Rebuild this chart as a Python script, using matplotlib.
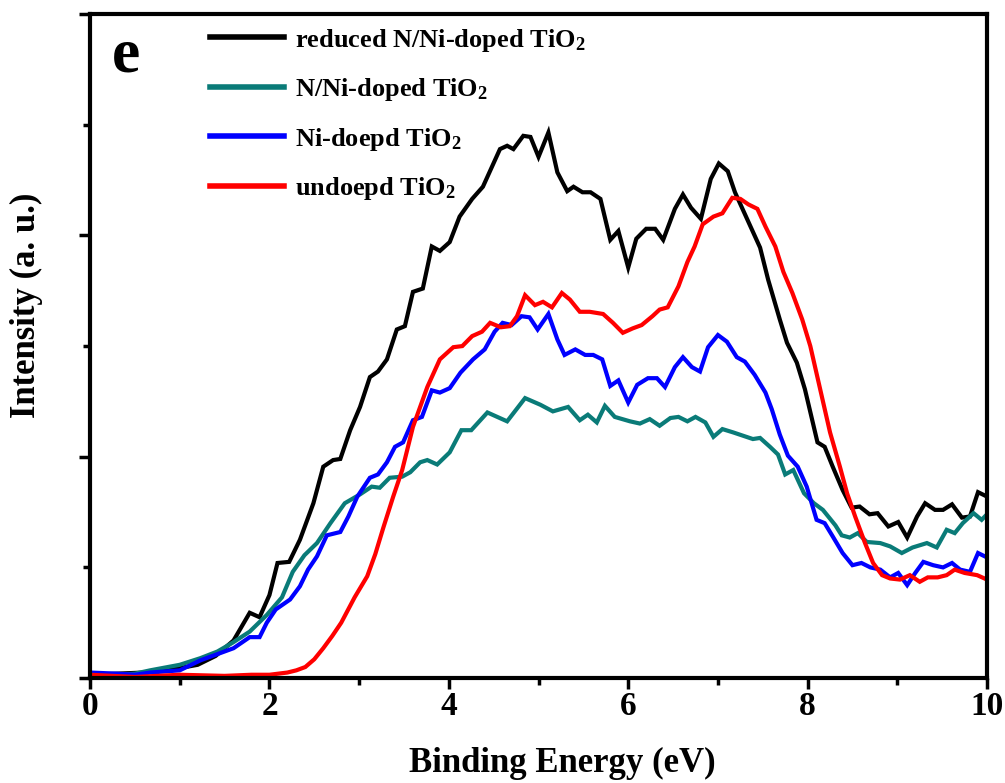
import matplotlib
matplotlib.use('agg')
import matplotlib.pyplot as plt
from matplotlib.ticker import MultipleLocator

# valence band spectra, four samples
x_red_ni = [0.0, 0.3, 0.6, 1.0, 1.2, 1.4, 1.6, 1.78, 1.89, 2.0, 2.09, 2.22, 2.34, 2.49, 2.6, 2.71, 2.79,
            2.9, 3.01, 3.12, 3.21, 3.31, 3.42, 3.51, 3.6, 3.71, 3.81, 3.9, 4.01, 4.12, 4.26, 4.38, 4.57,
            4.65, 4.72, 4.83, 4.91, 5.0, 5.11, 5.21, 5.32, 5.39, 5.49, 5.58, 5.69, 5.8, 5.89, 6.0, 6.09,
            6.2, 6.3, 6.39, 6.52, 6.61, 6.7, 6.81, 6.92, 7.01, 7.11, 7.19, 7.33, 7.47, 7.56, 7.69, 7.77,
            7.88, 7.97, 8.11, 8.19, 8.28, 8.39, 8.49, 8.58, 8.69, 8.78, 8.9, 9.01, 9.11, 9.22, 9.31, 9.42,
            9.51, 9.61, 9.72, 9.81, 9.9, 10.0]
y_red_ni = [0.03, 0.04, 0.05, 0.09, 0.12, 0.2, 0.34, 0.59, 0.55, 0.75, 1.04, 1.05, 1.25, 1.58, 1.91, 1.97,
            1.98, 2.24, 2.45, 2.72, 2.77, 2.88, 3.15, 3.18, 3.49, 3.52, 3.9, 3.86, 3.94, 4.17, 4.33, 4.44,
            4.78, 4.81, 4.78, 4.9, 4.89, 4.71, 4.93, 4.57, 4.4, 4.44, 4.39, 4.39, 4.33, 3.96, 4.04, 3.71,
            3.97, 4.06, 4.06, 3.96, 4.24, 4.37, 4.25, 4.15, 4.51, 4.65, 4.58, 4.39, 4.14, 3.89, 3.6, 3.24,
            3.03, 2.85, 2.61, 2.13, 2.09, 1.91, 1.7, 1.54, 1.55, 1.48, 1.49, 1.37, 1.41, 1.27, 1.46, 1.58,
            1.52, 1.52, 1.57, 1.45, 1.46, 1.68, 1.64]

x_nni = [0.0, 0.3, 0.5, 0.67, 1.0, 1.23, 1.42, 1.59, 1.78, 1.97, 2.14, 2.26, 2.39, 2.53, 2.68, 2.84, 3.01,
         3.14, 3.23, 3.34, 3.48, 3.57, 3.68, 3.76, 3.87, 4.01, 4.14, 4.25, 4.43, 4.65, 4.85, 5.02, 5.16,
         5.33, 5.46, 5.55, 5.65, 5.74, 5.85, 6.02, 6.13, 6.24, 6.35, 6.47, 6.56, 6.66, 6.75, 6.86, 6.95,
         7.05, 7.17, 7.28, 7.39, 7.47, 7.58, 7.67, 7.75, 7.84, 7.96, 8.07, 8.17, 8.31, 8.38, 8.47, 8.56,
         8.66, 8.81, 8.92, 9.05, 9.17, 9.33, 9.44, 9.55, 9.64, 9.73, 9.85, 9.94, 10.0]
y_nni = [0.04, 0.03, 0.04, 0.07, 0.12, 0.18, 0.24, 0.32, 0.42, 0.57, 0.73, 0.96, 1.11, 1.22, 1.4, 1.58, 1.66,
         1.73, 1.72, 1.81, 1.82, 1.86, 1.95, 1.97, 1.93, 2.04, 2.24, 2.24, 2.4, 2.32, 2.53, 2.47, 2.41,
         2.45, 2.33, 2.38, 2.31, 2.46, 2.36, 2.32, 2.3, 2.34, 2.28, 2.35, 2.36, 2.32, 2.36, 2.31, 2.18,
         2.25, 2.22, 2.19, 2.16, 2.17, 2.09, 2.02, 1.84, 1.88, 1.67, 1.58, 1.52, 1.38, 1.29, 1.27, 1.31,
         1.23, 1.22, 1.19, 1.13, 1.18, 1.22, 1.18, 1.34, 1.31, 1.4, 1.49, 1.43, 1.48]

x_ni = [0.0, 0.3, 0.5, 0.67, 1.0, 1.23, 1.6, 1.78, 1.89, 1.97, 2.07, 2.23, 2.34, 2.43, 2.53, 2.64, 2.79,
        2.88, 2.98, 3.12, 3.21, 3.31, 3.4, 3.49, 3.6, 3.7, 3.81, 3.9, 4.01, 4.13, 4.27, 4.4, 4.51, 4.6,
        4.7, 4.81, 4.9, 4.99, 5.11, 5.21, 5.29, 5.41, 5.52, 5.61, 5.71, 5.8, 5.89, 6.0, 6.1, 6.22, 6.32,
        6.41, 6.52, 6.61, 6.71, 6.8, 6.89, 7.0, 7.1, 7.21, 7.3, 7.41, 7.53, 7.6, 7.69, 7.78, 7.89, 7.99,
        8.1, 8.19, 8.28, 8.39, 8.5, 8.6, 8.7, 8.81, 8.92, 9.01, 9.11, 9.2, 9.29, 9.4, 9.51, 9.61, 9.7,
        9.81, 9.9, 10.0]
y_ni = [0.05, 0.04, 0.03, 0.05, 0.07, 0.16, 0.27, 0.37, 0.37, 0.5, 0.62, 0.71, 0.83, 0.98, 1.1, 1.29, 1.32,
        1.46, 1.64, 1.81, 1.84, 1.95, 2.09, 2.13, 2.33, 2.36, 2.6, 2.58, 2.62, 2.76, 2.88, 2.97, 3.13, 3.21,
        3.19, 3.27, 3.26, 3.15, 3.29, 3.06, 2.92, 2.97, 2.92, 2.92, 2.88, 2.64, 2.69, 2.49, 2.65, 2.71, 2.71,
        2.63, 2.81, 2.9, 2.81, 2.77, 2.99, 3.1, 3.04, 2.9, 2.86, 2.74, 2.58, 2.43, 2.2, 2.01, 1.91, 1.73,
        1.43, 1.4, 1.28, 1.13, 1.02, 1.04, 1.0, 0.98, 0.91, 0.95, 0.84, 0.95, 1.05, 1.02, 1.0, 1.04, 0.98,
        0.96, 1.13, 1.09]

x_undoped = [0.0, 0.5, 1.0, 1.5, 1.8, 2.0, 2.2, 2.3, 2.4, 2.5, 2.6, 2.7, 2.8, 2.95, 3.09, 3.18, 3.27, 3.38,
             3.48, 3.6, 3.76, 3.9, 4.05, 4.15, 4.26, 4.37, 4.46, 4.58, 4.68, 4.76, 4.85, 4.96, 5.05, 5.15,
             5.26, 5.35, 5.46, 5.57, 5.72, 5.83, 5.94, 6.05, 6.15, 6.27, 6.35, 6.44, 6.56, 6.66, 6.74, 6.83,
             6.95, 7.05, 7.16, 7.25, 7.34, 7.44, 7.53, 7.64, 7.73, 7.83, 7.94, 8.03, 8.14, 8.25, 8.36, 8.44,
             8.53, 8.64, 8.73, 8.83, 8.92, 9.03, 9.14, 9.25, 9.34, 9.45, 9.55, 9.64, 9.75, 9.89, 10.0]
y_undoped = [0.03, 0.01, 0.03, 0.02, 0.03, 0.03, 0.05, 0.07, 0.1, 0.17, 0.27, 0.38, 0.5, 0.73, 0.92, 1.12,
             1.36, 1.64, 1.88, 2.27, 2.63, 2.88, 2.99, 3.0, 3.09, 3.13, 3.21, 3.17, 3.18, 3.27, 3.46, 3.37,
             3.4, 3.35, 3.48, 3.42, 3.31, 3.31, 3.29, 3.21, 3.12, 3.16, 3.19, 3.27, 3.33, 3.35, 3.54, 3.76,
             3.9, 4.1, 4.17, 4.2, 4.34, 4.33, 4.28, 4.24, 4.08, 3.9, 3.67, 3.48, 3.24, 3.0, 2.61, 2.22, 1.91,
             1.67, 1.46, 1.22, 1.04, 0.93, 0.9, 0.89, 0.93, 0.87, 0.91, 0.91, 0.93, 0.98, 0.95, 0.93, 0.89]

labels = ['reduced N/Ni-doped TiO$_2$', 'N/Ni-doped TiO$_2$', 'Ni-doepd TiO$_2$', 'undoepd TiO$_2$']
colors = ['black', '#0a7b78', '#0000ff', '#ff0000']

plt.rcParams['font.family'] = 'Liberation Serif'
plt.rcParams['font.weight'] = 'bold'
plt.rcParams['axes.labelweight'] = 'bold'
plt.rcParams['mathtext.fontset'] = 'custom'
plt.rcParams['mathtext.rm'] = 'Liberation Serif:bold'
plt.rcParams['mathtext.default'] = 'rm'

fig = plt.figure(figsize=(10.05, 7.83), dpi=100)
ax = fig.add_axes([0.0896, 0.134, 0.8925, 0.848])

series = [(x_red_ni, y_red_ni), (x_nni, y_nni), (x_ni, y_ni), (x_undoped, y_undoped)]
lines = []
for (xs, ys), lab, c in zip(series, labels, colors):
    ln, = ax.plot(xs, ys, color=c, lw=3, label=lab, solid_joinstyle='miter')
    lines.append(ln)

ax.set_xlim(0, 10)
ax.set_ylim(0, 6)
ax.xaxis.set_major_locator(MultipleLocator(2))
ax.xaxis.set_minor_locator(MultipleLocator(1))
ax.yaxis.set_major_locator(MultipleLocator(2))
ax.yaxis.set_minor_locator(MultipleLocator(1))
ax.tick_params(which='both', direction='out', width=2.5, labelsize=24, top=False, right=False)
ax.tick_params(which='major', length=8, pad=1)
ax.tick_params(which='minor', length=5)
ax.set_yticklabels([])
for sp in ax.spines.values():
    sp.set_linewidth(3)

ax.set_xlabel('Binding Energy (eV)', fontsize=25)
ax.set_ylabel('Intensity (a. u.)', fontsize=25)
ax.xaxis.set_label_coords(0.526, -0.104)
ax.yaxis.set_label_coords(-0.052, 0.562)

ax.text(0.024, 0.913, 'e', transform=ax.transAxes, fontsize=46, fontweight='bold', va='baseline')

leg = ax.legend(handles=lines, loc='upper left', bbox_to_anchor=(0.134, 0.981), frameon=False,
                borderpad=0, borderaxespad=0,
                fontsize=19, handlelength=2.8, handletextpad=0.4, labelspacing=0.85)
for h in leg.legend_handles:
    h.set_linewidth(4)

plt.savefig('out.png', dpi=100)
